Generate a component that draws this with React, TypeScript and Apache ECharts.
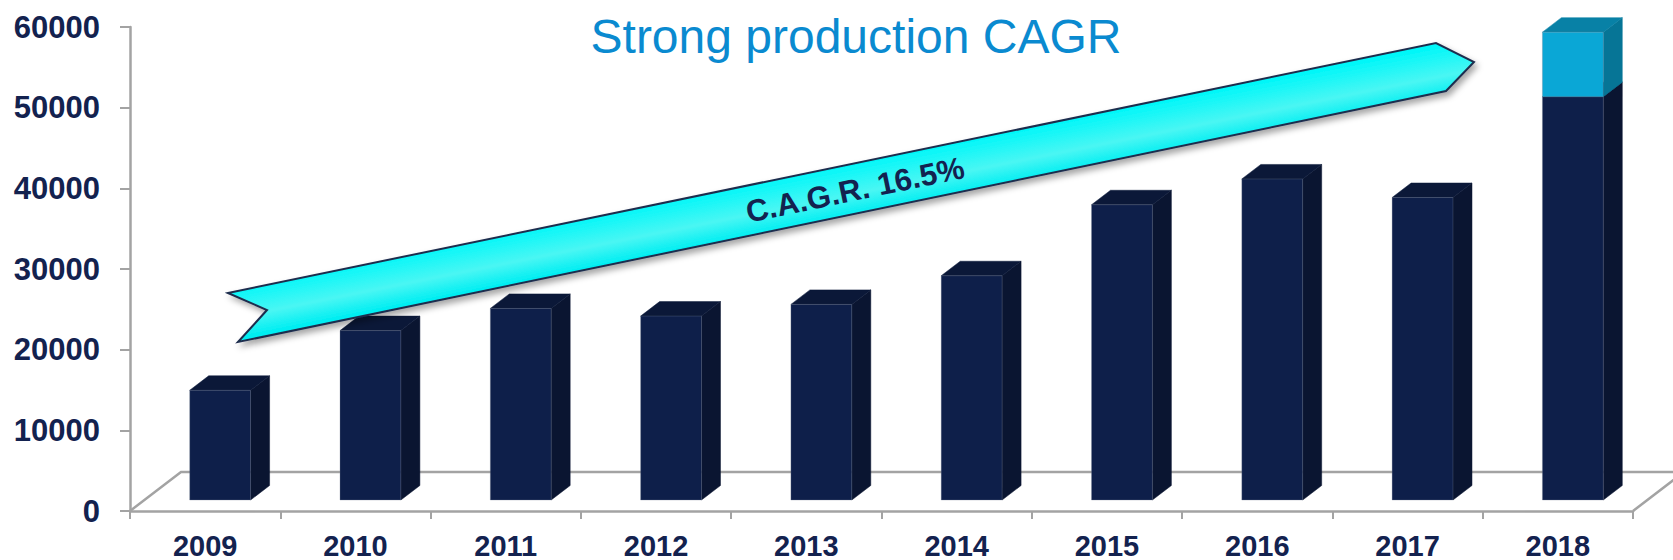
import React, { useEffect, useRef } from "react";
import * as echarts from "echarts";

const years = ["2009", "2010", "2011", "2012", "2013", "2014", "2015", "2016", "2017", "2018"];
const production = [13600, 21000, 23750, 22800, 24250, 27800, 36600, 39800, 37500, 50000];
const additional = [0, 0, 0, 0, 0, 0, 0, 0, 0, 8000];
const yMin = 0;
const yMax = 60000;
const yInterval = 10000;
const titleText = "Strong production CAGR";
const cagrText = "C.A.G.R. 16.5%";

const NAVY = "#13224F";
const GRAY = "#A3A3A3";
const FONT = "'Liberation Sans', Arial, sans-serif";

const baseColors = { front: "#0E1F4A", side: "#0A1531", top: "#0B1838" };
const topColors = { front: "#0AA7D6", side: "#067596", top: "#0881A6" };

function makeBarRenderer(colors: { front: string; side: string; top: string }) {
  return (params: any, api: any) => {
    const i = api.value(0);
    const lo = api.value(1);
    const hi = api.value(2);
    const pLo = api.coord([i, lo]);
    const pHi = api.coord([i, hi]);
    const band = api.size([1, 0])[0];
    const w = band * 0.405;
    const ox = 15, oy = -11;
    const dx = 19, dy = -14.5;
    const x0 = pLo[0] - w / 2 + ox;
    const x1 = x0 + w;
    const yB = pLo[1] + oy;
    const yT = pHi[1] + oy;
    return {
      type: "group",
      children: [
        {
          type: "polygon",
          shape: { points: [[x1, yB], [x1, yT], [x1 + dx, yT + dy], [x1 + dx, yB + dy]] },
          style: { fill: colors.side, stroke: colors.side, lineWidth: 0.5 },
        },
        {
          type: "polygon",
          shape: { points: [[x0, yT], [x1, yT], [x1 + dx, yT + dy], [x0 + dx, yT + dy]] },
          style: { fill: colors.top, stroke: colors.top, lineWidth: 0.5 },
        },
        {
          type: "rect",
          shape: { x: x0, y: yT, width: w, height: yB - yT },
          style: { fill: colors.front, stroke: "rgba(120,130,150,0.5)", lineWidth: 0.6 },
        },
      ],
    };
  };
}

function floorRenderer(params: any, api: any) {
  const p0 = api.coord([0, 0]);
  const pN = api.coord([years.length - 1, 0]);
  const band = api.size([1, 0])[0];
  const left = p0[0] - band / 2;
  const right = pN[0] + band / 2;
  const y = p0[1];
  const fdx = 51, fdy = -39;
  return {
    type: "polyline",
    shape: { points: [[left, y], [left + fdx, y + fdy], [right + fdx, y + fdy], [right, y]] },
    style: { fill: "none", stroke: GRAY, lineWidth: 2.5 },
  };
}

export default function App() {
  const ref = useRef<HTMLDivElement>(null);
  useEffect(() => {
    if (!ref.current) return;
    const chart = echarts.init(ref.current, undefined, { renderer: "svg" });
    const baseData = production.map((v, i) => [i, 0, v]);
    const topData = additional
      .map((v, i) => (v > 0 ? [i, production[i], production[i] + v] : null))
      .filter((d) => d !== null);

    const arrowPts = [
      [228, 293],
      [1436, 43],
      [1474, 62],
      [1446, 91],
      [238, 342],
      [267, 310],
    ];

    chart.setOption({
      animation: false,
      backgroundColor: "#ffffff",
      grid: { left: 130, right: 40, top: 27, bottom: 48, containLabel: false },
      xAxis: {
        type: "category",
        data: years,
        boundaryGap: true,
        axisLine: { show: true, lineStyle: { color: GRAY, width: 2.5 } },
        axisTick: { show: true, interval: 0, length: 8, inside: false, lineStyle: { color: GRAY, width: 2 } },
        axisLabel: {
          interval: 0,
          margin: 20,
          color: NAVY,
          fontSize: 29,
          fontWeight: "bold",
          fontFamily: FONT,
        },
        splitLine: { show: false },
      },
      yAxis: {
        type: "value",
        min: yMin,
        max: yMax,
        interval: yInterval,
        axisLine: { show: true, lineStyle: { color: GRAY, width: 2.5 } },
        axisTick: { show: true, length: 10, inside: false, lineStyle: { color: GRAY, width: 2 } },
        axisLabel: {
          margin: 30,
          color: NAVY,
          fontSize: 31,
          fontWeight: "bold",
          fontFamily: FONT,
          formatter: (v: number) => String(v),
        },
        splitLine: { show: false },
      },
      series: [
        {
          type: "custom",
          name: "floor",
          renderItem: floorRenderer,
          data: [[0, 0]],
          z: 1,
          silent: true,
        },
        {
          type: "custom",
          name: "Production",
          renderItem: makeBarRenderer(baseColors),
          data: baseData,
          encode: { x: 0, y: [1, 2] },
          z: 2,
        },
        {
          type: "custom",
          name: "Additional",
          renderItem: makeBarRenderer(topColors),
          data: topData,
          encode: { x: 0, y: [1, 2] },
          z: 3,
        },
      ],
      graphic: [
        {
          type: "text",
          x: 856,
          y: 36,
          z: 100,
          style: {
            text: titleText,
            fill: "#0A8AD0",
            fontSize: 48,
            fontFamily: FONT,
            fontWeight: "normal",
            align: "center",
            verticalAlign: "middle",
          },
        },
        {
          type: "polygon",
          z: 100,
          shape: { points: arrowPts },
          style: {
            fill: new echarts.graphic.LinearGradient(848, 164, 858, 214, [
              { offset: 0, color: "#00F7F9" },
              { offset: 0.6, color: "#4AF6F3" },
              { offset: 1, color: "#00EEF2" },
            ], true),
            stroke: "#1E2D4E",
            lineWidth: 2,
            shadowBlur: 6,
            shadowOffsetX: 3,
            shadowOffsetY: 4,
            shadowColor: "rgba(0,0,0,0.35)",
          },
        },
        {
          type: "text",
          x: 855,
          y: 190,
          z: 101,
          rotation: Math.atan(0.207),
          style: {
            text: cagrText,
            fill: NAVY,
            fontSize: 31,
            fontFamily: FONT,
            fontWeight: "bold",
            align: "center",
            verticalAlign: "middle",
          },
        },
      ],
    });
    return () => chart.dispose();
  }, []);
  return (
    <div
      ref={ref}
      style={{ position: "fixed", left: 0, top: 0, width: 1673, height: 560, background: "#fff" }}
    />
  );
}
